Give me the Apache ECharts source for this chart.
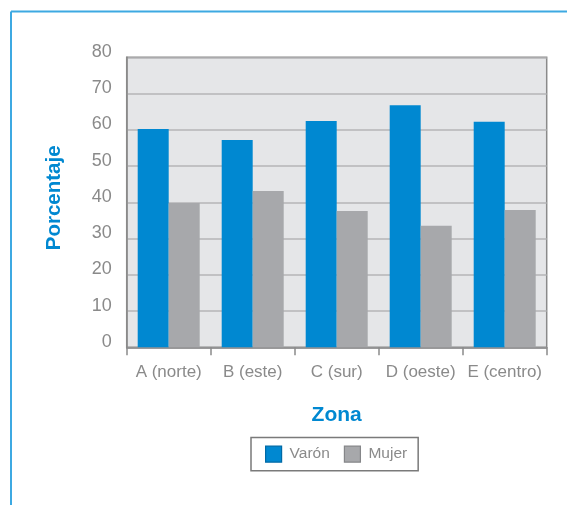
<!DOCTYPE html>
<html><head><meta charset="utf-8">
<script src="https://cdn.jsdelivr.net/npm/echarts@6/dist/echarts.min.js"></script>
<style>html,body{margin:0;padding:0;background:#fff}#c{width:567px;height:505px}</style>
</head><body><div id="c"></div>
<script>
var categories = ['A (norte)', 'B (este)', 'C (sur)', 'D (oeste)', 'E (centro)'];
var varon = [60.2, 57.2, 62.4, 66.8, 62.2];
var mujer = [39.8, 43.1, 37.6, 33.5, 37.9];
var seriesNames = ['Varón', 'Mujer'];
var FONT = '"Liberation Sans", Arial, sans-serif';
var chart = echarts.init(document.getElementById('c'), null, {renderer: 'canvas'});
chart.setOption({
  animation: false,
  backgroundColor: '#ffffff',
  graphic: [
    {type: 'line', shape: {x1: 11, y1: 11.5, x2: 567, y2: 11.5}, style: {stroke: '#3da9e2', lineWidth: 2}},
    {type: 'line', shape: {x1: 11, y1: 11.5, x2: 11, y2: 505}, style: {stroke: '#3da9e2', lineWidth: 2}}
  ],
  grid: {left: 126.7, top: 57.3, right: 20.3, bottom: 157.7, show: true,
         backgroundColor: '#e5e6e8', borderColor: '#8a8a8a', borderWidth: 1.5},
  legend: {
    data: [
      {name: seriesNames[0], itemStyle: {borderColor: '#006aa6', borderWidth: 1.2}},
      {name: seriesNames[1], itemStyle: {borderColor: '#858689', borderWidth: 1.2}}
    ],
    left: 251, top: 437.5, itemWidth: 16, itemHeight: 16, itemGap: 14,
    padding: [8, 11, 8, 14], borderColor: '#7a7a7a', borderWidth: 1.5, icon: 'rect',
    textStyle: {color: '#8a8a8a', fontSize: 15.5, fontFamily: FONT, padding: [0, 0, 0, 3]}
  },
  xAxis: {
    type: 'category', data: categories,
    name: 'Zona', nameLocation: 'middle', nameGap: 57,
    nameTextStyle: {color: '#0088d1', fontSize: 21, fontWeight: 'bold', fontFamily: FONT},
    axisLine: {lineStyle: {color: '#8a8a8a', width: 1.5}},
    axisTick: {show: true, interval: 0, length: 8, lineStyle: {color: '#8a8a8a', width: 1.5}},
    axisLabel: {interval: 0, color: '#8a8a8a', fontSize: 17, fontFamily: FONT, margin: 17}
  },
  yAxis: {
    type: 'value', min: 0, max: 80, interval: 10,
    name: 'Porcentaje', nameLocation: 'middle', nameGap: 62,
    nameTextStyle: {color: '#0088d1', fontSize: 20.5, fontWeight: 'bold', fontFamily: FONT, padding: [0, 0, 0, 9]},
    axisLine: {show: true, lineStyle: {color: '#8a8a8a', width: 1.5}},
    axisTick: {show: false},
    axisLabel: {color: '#8a8a8a', fontSize: 18, fontFamily: FONT, margin: 15,
                verticalAlign: 'bottom', lineHeight: 11},
    splitLine: {lineStyle: {color: '#b4b5b7', width: 1.5}}
  },
  series: [
    {name: seriesNames[0], type: 'bar', data: varon, barWidth: 31, barGap: '0%',
     itemStyle: {color: '#0088d1', borderWidth: 0}},
    {name: seriesNames[1], type: 'bar', data: mujer, barWidth: 31, barGap: '0%',
     itemStyle: {color: '#a7a8ab', borderWidth: 0}}
  ]
});
</script></body></html>
